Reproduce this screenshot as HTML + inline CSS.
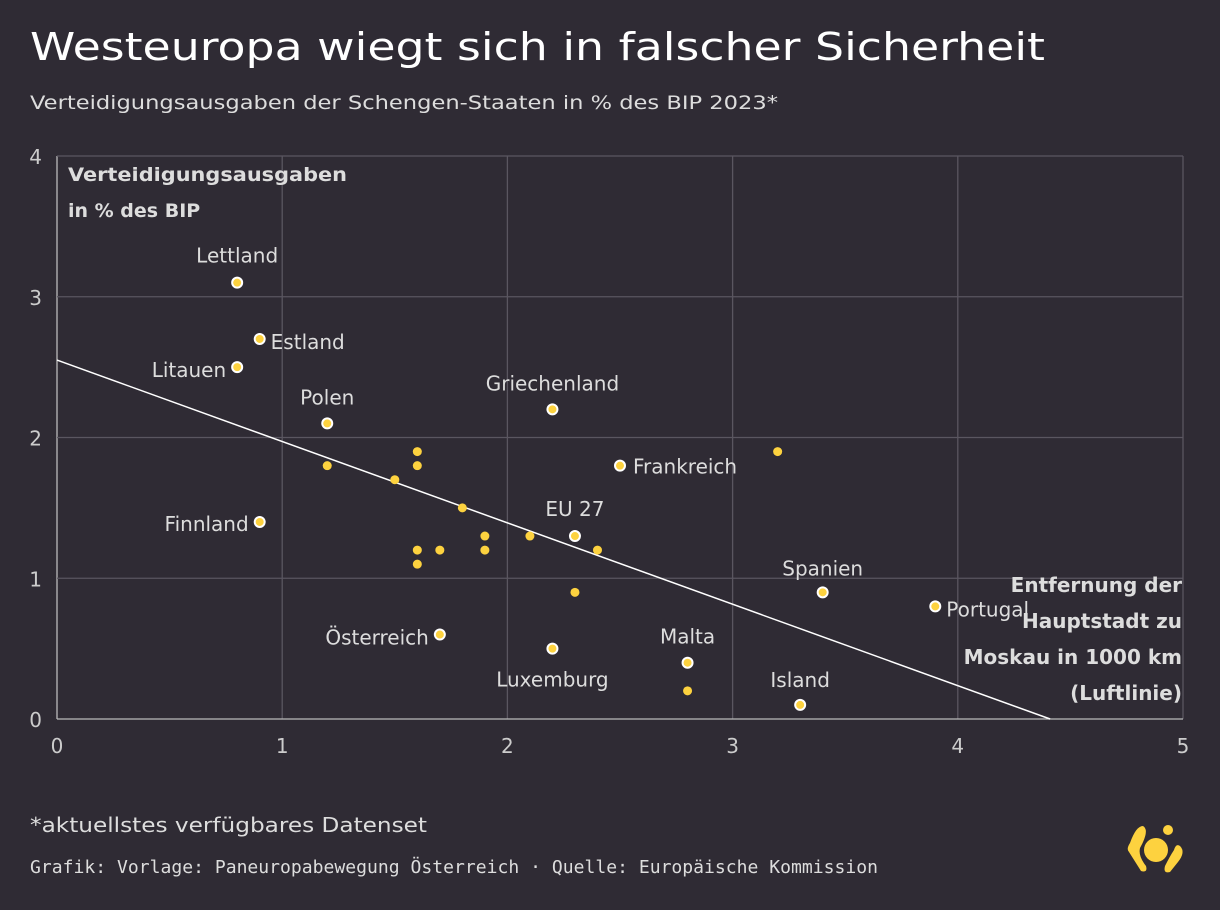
<!DOCTYPE html>
<html><head><meta charset="utf-8"><style>
body{margin:0;background:#2f2b34;width:1220px;height:910px;overflow:hidden;font-family:"DejaVu Sans","Liberation Sans",sans-serif;color:#fff}
svg{position:absolute;left:0;top:0;font-family:"DejaVu Sans","Liberation Sans",sans-serif}
</style></head><body>
<svg width="1220" height="910">
<text x="30" y="60" font-size="38" fill="#fff" textLength="1015" lengthAdjust="spacingAndGlyphs">Westeuropa wiegt sich in falscher Sicherheit</text>
<text x="30" y="109" font-size="19" fill="#ddd" textLength="748" lengthAdjust="spacingAndGlyphs">Verteidigungsausgaben der Schengen-Staaten in % des BIP 2023*</text>
<g id="grid"></g>
<g id="trend"></g>
<g id="pts"></g>
<text x="68" y="181" font-size="19" font-weight="bold" fill="#ddd"><tspan x="68" textLength="279" lengthAdjust="spacingAndGlyphs">Verteidigungsausgaben</tspan><tspan x="68" dy="36">in % des BIP</tspan></text>
<text text-anchor="end" font-size="20" font-weight="bold" fill="#ddd"><tspan x="1182" y="592">Entfernung der</tspan><tspan x="1182" dy="36">Hauptstadt zu</tspan><tspan x="1182" dy="36">Moskau in 1000 km</tspan><tspan x="1182" dy="36">(Luftlinie)</tspan></text>
<text x="30" y="832" font-size="20" fill="#ddd" textLength="397" lengthAdjust="spacingAndGlyphs">*aktuellstes verfügbares Datenset</text>
<text x="30" y="873" font-size="18" fill="#ddd" font-family="DejaVu Sans Mono,Liberation Mono,monospace" textLength="848" lengthAdjust="spacingAndGlyphs">Grafik: Vorlage: Paneuropabewegung Österreich · Quelle: Europäische Kommission</text>
<g fill="#fdd23f">
<circle cx="1156" cy="850" r="12"/><circle cx="1168" cy="830" r="5"/>
<path d="M1143 826 Q1150 830 1140 848 Q1138 856 1146 866 Q1148 873 1141 871 L1129 852 Q1126 849 1130 843 Q1136 826 1143 826Z"/>
<path d="M1180 846 Q1186 852 1178 862 L1170 872 Q1163 874 1165 866 Q1170 856 1174 850 Q1176 843 1180 846Z"/>
</g>
</svg>
<script>
const xs=[0.8,0.9,0.8,1.2,2.2,2.5,0.9,2.3,3.4,3.9,1.7,2.2,2.8,3.3,3.2,1.2,1.6,1.6,1.5,1.8,1.9,1.9,2.1,2.4,1.6,1.6,1.7,2.3,2.8];
const ys=[3.1,2.7,2.5,2.1,2.2,1.8,1.4,1.3,0.9,0.8,0.6,0.5,0.4,0.1,1.9,1.8,1.9,1.8,1.7,1.5,1.3,1.2,1.3,1.2,1.2,1.1,1.2,0.9,0.2];
const names=["Lettland","Estland","Litauen","Polen","Griechenland","Frankreich","Finnland","EU 27","Spanien","Portugal","Österreich","Luxemburg","Malta","Island"];
const xTicks=[0,1,2,3,4,5];
const yTicks=[0,1,2,3,4];
const trend=[2.55,4.41];
const lpos=[[0,-27,'middle'],[11,3,'start'],[-11,3,'end'],[0,-26,'middle'],[0,-26,'middle'],[13,1,'start'],[-11,2,'end'],[0,-27,'middle'],[0,-24,'middle'],[11,3,'start'],[-11,3,'end'],[0,31,'middle'],[0,-26,'middle'],[0,-25,'middle']];
const X=v=>57+v*225.2, Y=v=>719-v*140.75;
const NS='http://www.w3.org/2000/svg';
function mk(t,a,p){const e=document.createElementNS(NS,t);for(const k in a)e.setAttribute(k,a[k]);p.appendChild(e);return e;}
const g=document.getElementById('grid');
xTicks.forEach(t=>{const l=mk('line',{x1:X(t),x2:X(t),y1:Y(4),y2:Y(0),stroke:t==0?'#bbb':'#5a5660','stroke-width':1.3},g);

const tx=mk('text',{x:X(t),y:753,'text-anchor':'middle','font-size':20,fill:'#ccc'},g);tx.textContent=t;
});
yTicks.forEach(t=>{const l=mk('line',{x1:X(0),x2:X(5),y1:Y(t),y2:Y(t),stroke:t==0?'#bbb':'#5a5660','stroke-width':1.3},g);

const tx=mk('text',{x:42,y:Y(t)+8,'text-anchor':'end','font-size':20,fill:'#ccc'},g);tx.textContent=t;
});
const tl=mk('line',{x1:X(0),y1:Y(trend[0]),x2:X(trend[1]),y2:Y(0),stroke:'#fff','stroke-width':1.5},document.getElementById('trend'));

const p=document.getElementById('pts');
xs.forEach((x,i)=>{const lab=i<names.length;
const c=mk('circle',{cx:X(x),cy:Y(ys[i]),r:lab?5:4.5,fill:'#fdd23f',stroke:lab?'#fff':'none','stroke-width':2},p);

if(lab){const q=lpos[i];const t=mk('text',{x:X(x)+q[0],y:Y(ys[i])+q[1]+7,'text-anchor':q[2],'font-size':20,fill:'#ddd'},p);t.textContent=names[i];
}});
</script>
</body></html>
